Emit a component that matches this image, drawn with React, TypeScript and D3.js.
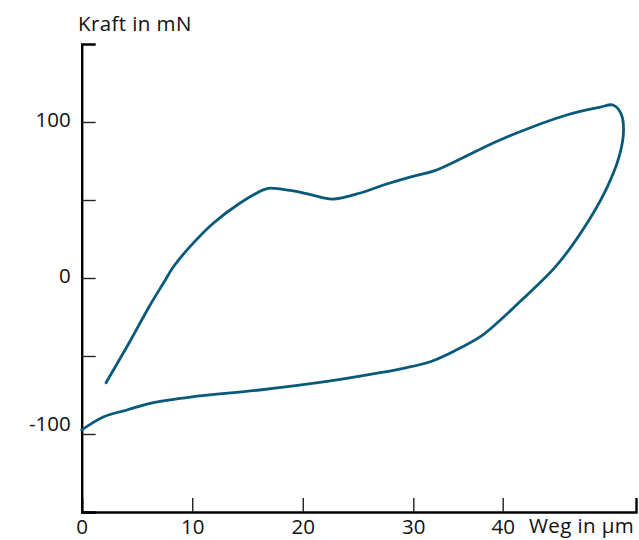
import * as d3 from 'd3'
import { useEffect, useRef } from 'react'

// Hysteresis loop (Weg in µm, Kraft in mN)
// loading branch: start low left, up over the hump, to the tip at the right
const upperWeg = [2.2, 4.4, 6.1, 7.4, 8.3, 9.8, 11.9, 14.3, 16.4, 16.9, 18.9, 20.7, 22.7, 25.2, 27.3, 29.7, 32.4, 39.7, 47.2, 50.9, 52.4]
const upperKraft = [-67.1, -40.2, -18.4, -3.2, 7.2, 20.1, 35.1, 47.9, 56.4, 57.5, 56.1, 53.5, 50.6, 54.5, 59.6, 64.7, 68.8, 88.5, 104.5, 109.4, 110.9]
// unloading branch: from the tip back down to the y axis
const lowerWeg = [53.3, 53.6, 53.1, 51.6, 49.0, 46.0, 41.9, 39.3, 37.5, 34.8, 31.9, 29.1, 27.0, 22.5, 16.1, 10.1, 6.2, 4.1, 2.0, 0]
const lowerKraft = [105.6, 94.9, 77.8, 56.4, 30.8, 7.6, -15.4, -29.2, -37.6, -46.2, -53.7, -57.9, -60.7, -66.0, -71.8, -76.1, -80.3, -84.6, -88.9, -97.4]

const xTicks = [0, 10, 20, 30, 40]
const yTicks = [-100, -50, 0, 50, 100]
const yLabelled = [-100, 0, 100]

export default function App() {
  const svgRef = useRef<SVGSVGElement | null>(null)

  useEffect(() => {
    if (!svgRef.current) return
    const svg = d3.select(svgRef.current)
    svg.selectAll('*').remove()

    // the original axis is not evenly spaced past 30, so a piecewise scale
    const x = d3.scaleLinear().domain([0, 30, 40, 55]).range([81.7, 413.3, 502.7, 636])
    const y = d3.scaleLinear().domain([-150, 150]).range([512, 44])

    const font = '"Open Sans", sans-serif'
    const fs = 20.5
    const ls = 0.4

    const xAxis = svg.append('g').attr('transform', `translate(0,${y(-150)})`)
      .call(d3.axisBottom(x).tickValues(xTicks).tickSizeInner(-14).tickSizeOuter(-14).tickPadding(7.5))
    const yAxis = svg.append('g').attr('transform', `translate(${x(0)},0)`)
      .call(d3.axisLeft(y).tickValues(yTicks).tickSizeInner(-14).tickSizeOuter(-14).tickPadding(11)
        .tickFormat(d => (yLabelled.includes(+d) ? String(d) : '')))

    for (const ax of [xAxis, yAxis]) {
      ax.attr('font-family', font).attr('font-size', fs)
      ax.select('.domain').attr('stroke', '#000').attr('stroke-width', 2.4)
      ax.selectAll('.tick line').attr('stroke', '#222').attr('stroke-width', 1.4)
      ax.selectAll('.tick text').attr('fill', '#111')
    }
    yAxis.selectAll<SVGTextElement, number>('.tick text').attr('dy', d => (d === -100 ? '-0.15em' : '0.2em'))

    svg.append('text').attr('x', 78).attr('y', 31)
      .attr('font-family', font).attr('font-size', fs).attr('letter-spacing', ls)
      .attr('fill', '#111').text('Kraft in mN')
    svg.append('text').attr('x', 529).attr('y', 533)
      .attr('font-family', font).attr('font-size', fs).attr('letter-spacing', ls)
      .attr('fill', '#111').text('Weg in µm')

    const pts = [
      ...upperWeg.map((w, i) => [w, upperKraft[i]] as [number, number]),
      ...lowerWeg.map((w, i) => [w, lowerKraft[i]] as [number, number]),
    ]
    const line = d3.line<[number, number]>()
      .x(d => x(d[0]))
      .y(d => y(d[1]))
      .curve(d3.curveCatmullRom.alpha(0.5))

    svg.append('path')
      .datum(pts)
      .attr('fill', 'none')
      .attr('stroke', '#08597a')
      .attr('stroke-width', 2.8)
      .attr('stroke-linecap', 'round')
      .attr('stroke-linejoin', 'round')
      .attr('d', line)
  }, [])

  return (
    <svg ref={svgRef} width={639} height={540}
      style={{ position: 'absolute', left: 0, top: 0, background: '#fff' }} />
  )
}
